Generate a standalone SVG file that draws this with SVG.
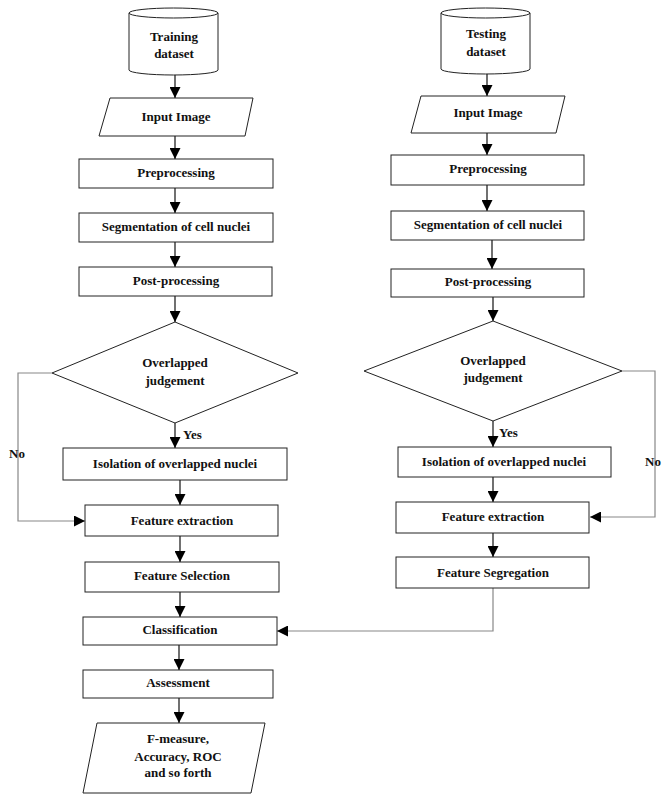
<svg xmlns="http://www.w3.org/2000/svg" width="670" height="802" viewBox="0 0 670 802">
<defs>
<style>
.box{fill:#fff;stroke:#222;stroke-width:1}
.t{font-family:"Liberation Serif","Times New Roman",serif;font-weight:bold;font-size:13px;fill:#111;text-anchor:middle}
.tl{font-family:"Liberation Serif","Times New Roman",serif;font-weight:bold;font-size:13px;fill:#111}
.c{fill:none;stroke:#111;stroke-width:1.2}
.g{fill:none;stroke:#888;stroke-width:1.2}
</style>
<marker id="ah" markerUnits="userSpaceOnUse" markerWidth="11" markerHeight="11" refX="10" refY="5" orient="auto" viewBox="0 0 10 10">
<path d="M0,0 L10,5 L0,10 z" fill="#000"/>
</marker>
</defs>
<rect width="670" height="802" fill="#fff"/>

<g id="connectors">
<path class="c" d="M175,74 V98" marker-end="url(#ah)"/>
<path class="c" d="M175,136 V159" marker-end="url(#ah)"/>
<path class="c" d="M175,188 V213" marker-end="url(#ah)"/>
<path class="c" d="M175,242 V267" marker-end="url(#ah)"/>
<path class="c" d="M175,296 V322" marker-end="url(#ah)"/>
<path class="c" d="M175,423 V448" marker-end="url(#ah)"/>
<path class="c" d="M180,480 V505" marker-end="url(#ah)"/>
<path class="c" d="M180,536 V562" marker-end="url(#ah)"/>
<path class="c" d="M180,592 V617" marker-end="url(#ah)"/>
<path class="c" d="M179,645 V670" marker-end="url(#ah)"/>
<path class="c" d="M179,698 V723" marker-end="url(#ah)"/>
<path class="g" d="M52,373 H18 V521 H85" marker-end="url(#ah)"/>
<path class="c" d="M487,72 V96" marker-end="url(#ah)"/>
<path class="c" d="M487,133 V155" marker-end="url(#ah)"/>
<path class="c" d="M487,185 V211" marker-end="url(#ah)"/>
<path class="c" d="M492,240 V269" marker-end="url(#ah)"/>
<path class="c" d="M493,297 V321" marker-end="url(#ah)"/>
<path class="c" d="M493,421 V447" marker-end="url(#ah)"/>
<path class="c" d="M493,477 V502" marker-end="url(#ah)"/>
<path class="c" d="M493,533 V557" marker-end="url(#ah)"/>
<path class="g" d="M493,588 V631 H277" marker-end="url(#ah)"/>
<path class="g" d="M622,371 H655 V517 H590" marker-end="url(#ah)"/>
<text class="tl" x="183" y="439">Yes</text>
<text class="tl" x="9" y="458">No</text>
<text class="tl" x="499" y="437">Yes</text>
<text class="tl" x="645" y="466">No</text>
</g>

<g id="train-dataset">
<path class="box" d="M129,13 V70 A44.5,5 0 0 0 218,70 V13"/>
<ellipse class="box" cx="173.5" cy="13" rx="44.5" ry="5"/>
<text class="t" x="174" y="41">Training</text>
<text class="t" x="174" y="58">dataset</text>
</g>
<g id="train-input">
<polygon class="box" points="110,98 253,98 245,136 99,136"/>
<text class="t" x="176" y="121">Input Image</text>
</g>
<g id="train-pre">
<rect class="box" x="79" y="159" width="194" height="29"/>
<text class="t" x="176" y="177">Preprocessing</text>
</g>
<g id="train-seg">
<rect class="box" x="79" y="213" width="194" height="29"/>
<text class="t" x="176" y="231">Segmentation of cell nuclei</text>
</g>
<g id="train-post">
<rect class="box" x="79" y="267" width="193" height="29"/>
<text class="t" x="176" y="285">Post-processing</text>
</g>
<g id="train-judge">
<polygon class="box" points="175,322 298,373 175,423 52,373"/>
<text class="t" x="175" y="367">Overlapped</text>
<text class="t" x="175" y="385">judgement</text>
</g>
<g id="train-iso">
<rect class="box" x="63" y="448" width="224" height="32"/>
<text class="t" x="175" y="468">Isolation of overlapped nuclei</text>
</g>
<g id="train-fe">
<rect class="box" x="85" y="505" width="193" height="31"/>
<text class="t" x="182" y="525">Feature extraction</text>
</g>
<g id="train-fs">
<rect class="box" x="85" y="562" width="194" height="30"/>
<text class="t" x="182" y="580">Feature Selection</text>
</g>
<g id="classification">
<rect class="box" x="83" y="617" width="194" height="28"/>
<text class="t" x="180" y="634">Classification</text>
</g>
<g id="assessment">
<rect class="box" x="83" y="670" width="190" height="28"/>
<text class="t" x="178" y="687">Assessment</text>
</g>
<g id="metrics">
<polygon class="box" points="97,723 265,723 251,793 83,793"/>
<text class="t" x="178" y="743">F-measure,</text>
<text class="t" x="178" y="761">Accuracy, ROC</text>
<text class="t" x="178" y="777">and so forth</text>
</g>

<g id="test-dataset">
<path class="box" d="M441,13 V69 A44.5,5 0 0 0 530,69 V13"/>
<ellipse class="box" cx="485.5" cy="13" rx="44.5" ry="5"/>
<text class="t" x="486" y="38">Testing</text>
<text class="t" x="486" y="56">dataset</text>
</g>
<g id="test-input">
<polygon class="box" points="421,96 565,96 556,133 411,133"/>
<text class="t" x="488" y="117">Input Image</text>
</g>
<g id="test-pre">
<rect class="box" x="391" y="155" width="193" height="30"/>
<text class="t" x="488" y="173">Preprocessing</text>
</g>
<g id="test-seg">
<rect class="box" x="391" y="211" width="193" height="29"/>
<text class="t" x="488" y="229">Segmentation of cell nuclei</text>
</g>
<g id="test-post">
<rect class="box" x="391" y="269" width="193" height="28"/>
<text class="t" x="488" y="286">Post-processing</text>
</g>
<g id="test-judge">
<polygon class="box" points="493,321 622,371 493,421 364,371"/>
<text class="t" x="493" y="365">Overlapped</text>
<text class="t" x="493" y="382">judgement</text>
</g>
<g id="test-iso">
<rect class="box" x="398" y="447" width="213" height="30"/>
<text class="t" x="504" y="466">Isolation of overlapped nuclei</text>
</g>
<g id="test-fe">
<rect class="box" x="396" y="502" width="193" height="31"/>
<text class="t" x="493" y="521">Feature extraction</text>
</g>
<g id="test-fseg">
<rect class="box" x="396" y="557" width="193" height="31"/>
<text class="t" x="493" y="577">Feature Segregation</text>
</g>
</svg>
